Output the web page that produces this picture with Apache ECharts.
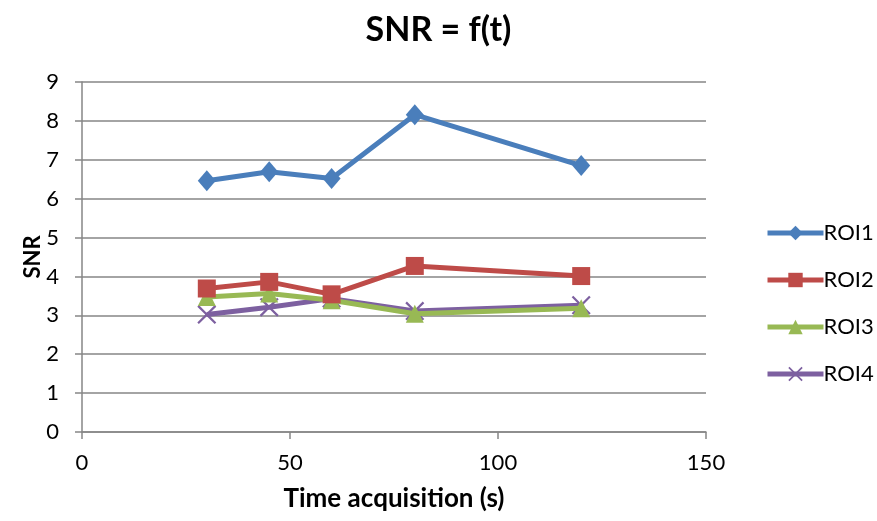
<!DOCTYPE html>
<html>
<head>
<meta charset="utf-8">
<script src="https://cdn.jsdelivr.net/npm/echarts@6/dist/echarts.min.js"></script>
<style>
  html, body { margin: 0; padding: 0; background: #fff; }
  #chart { width: 877px; height: 521px; }
</style>
</head>
<body>
<div id="chart"></div>
<script>
// Acquisition times (s) and SNR per region of interest
const times = [30, 45, 60, 80, 120];
const roi1 = [6.46, 6.69, 6.52, 8.16, 6.85];
const roi2 = [3.69, 3.86, 3.54, 4.27, 4.01];
const roi3 = [3.47, 3.56, 3.39, 3.04, 3.18];
const roi4 = [3.02, 3.21, 3.43, 3.11, 3.26];
const seriesNames = ['ROI1', 'ROI2', 'ROI3', 'ROI4'];

const FONT = 'Lato, "Open Sans", "Liberation Sans", sans-serif';
const crossPath = 'path://M0,1 L1,0 L6,5 L11,0 L12,1 L7,6 L12,11 L11,12 L6,7 L1,12 L0,11 L5,6 Z';

const styles = [
  { color: '#4A7EBB', symbol: 'diamond', size: [18, 21] },
  { color: '#BE4B48', symbol: 'rect', size: 18 },
  { color: '#98B954', symbol: 'triangle', size: 18 },
  { color: '#7D60A0', symbol: crossPath, size: 19 }
];
const values = [roi1, roi2, roi3, roi4];

const series = seriesNames.map((name, i) => ({
  name,
  type: 'line',
  data: times.map((t, j) => [t, values[i][j]]),
  symbol: styles[i].symbol,
  symbolSize: styles[i].size,
  showAllSymbol: true,
  lineStyle: { color: styles[i].color, width: 5 },
  itemStyle: { color: styles[i].color },
  emphasis: { disabled: true },
  z: 10 - i
}));

const chart = echarts.init(document.getElementById('chart'), null, { renderer: 'canvas' });
chart.setOption({
  animation: false,
  backgroundColor: '#fff',
  textStyle: { fontFamily: FONT },
  title: {
    text: 'SNR = f(t)',
    left: 'center',
    top: 8,
    textStyle: { fontFamily: FONT, fontSize: 34, fontWeight: 'bold', color: '#000' }
  },
  legend: {
    orient: 'vertical',
    left: 765,
    top: 222,
    padding: 0,
    itemWidth: 56,
    itemHeight: 18,
    itemGap: 25,
    data: seriesNames,
    lineStyle: { width: 5 },
    textStyle: { fontFamily: FONT, fontSize: 22, lineHeight: 20, color: '#000', padding: [0, 0, 0, -5] }
  },
  grid: { left: 82, right: 171, top: 82, bottom: 89, containLabel: false },
  xAxis: {
    type: 'value',
    min: 0, max: 150, interval: 50,
    name: 'Time acquisition (s)',
    nameLocation: 'middle',
    nameGap: 54,
    nameMoveOverlap: false,
    nameTextStyle: { fontFamily: FONT, fontSize: 26, fontWeight: 'bold', color: '#000' },
    axisLine: { show: true, onZero: false, lineStyle: { color: '#868686', width: 1.5 } },
    axisTick: { show: true, length: 7, lineStyle: { color: '#868686', width: 1.5 } },
    axisLabel: { fontFamily: FONT, fontSize: 22, color: '#000', margin: 20 },
    splitLine: { show: false }
  },
  yAxis: {
    type: 'value',
    min: 0, max: 9, interval: 1,
    name: 'SNR',
    nameLocation: 'middle',
    nameGap: 38,
    nameMoveOverlap: false,
    nameTextStyle: { fontFamily: FONT, fontSize: 22, fontWeight: 'bold', color: '#000' },
    axisLine: { show: true, lineStyle: { color: '#868686', width: 1.5 } },
    axisTick: { show: true, length: 7, lineStyle: { color: '#868686', width: 1.5 } },
    axisLabel: { fontFamily: FONT, fontSize: 22, color: '#000', margin: 23 },
    splitLine: { show: true, lineStyle: { color: '#868686', width: 1.5 } }
  },
  series
});
</script>
</body>
</html>
